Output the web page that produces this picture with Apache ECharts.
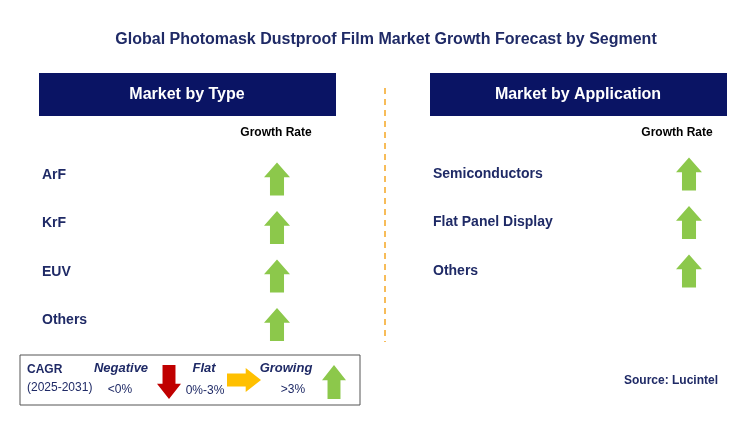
<!DOCTYPE html>
<html><head><meta charset="utf-8">
<script src="https://cdn.jsdelivr.net/npm/echarts@6/dist/echarts.min.js"></script>
<style>html,body{margin:0;padding:0;background:#fff}#c{width:750px;height:421px}</style>
</head><body><div id="c"></div>
<script>
const typeCategories = ['ArF','KrF','EUV','Others'];
const typeGrowth = ['up','up','up','up'];
const appCategories = ['Semiconductors','Flat Panel Display','Others'];
const appGrowth = ['up','up','up'];

const navy = '#0A1464', green = '#8CC84B', red = '#C00000', yellow = '#FFC000';
const F = '"Liberation Sans", Arial, sans-serif';
function arrow(dir, cx, cy, color, w, h) {
  w = w || 26; h = h || 33;
  const hw = w/2, sw = w*0.27, hh = h*0.45;
  let pts;
  if (dir === 'up') pts = [[0,-h/2],[hw,-h/2+hh],[sw,-h/2+hh],[sw,h/2],[-sw,h/2],[-sw,-h/2+hh],[-hw,-h/2+hh]];
  else if (dir === 'down') pts = [[0,h/2],[hw,h/2-hh],[sw,h/2-hh],[sw,-h/2],[-sw,-h/2],[-sw,h/2-hh],[-hw,h/2-hh]];
  else pts = [[h/2,0],[h/2-hh,-hw],[h/2-hh,-sw],[-h/2,-sw],[-h/2,sw],[h/2-hh,sw],[h/2-hh,hw]];
  return {type:'polygon', shape:{points:pts.map(p=>[p[0]+cx,p[1]+cy])}, style:{fill:color}};
}
const g = [];
g.push({type:'text', style:{text:'Global Photomask Dustproof Film Market Growth Forecast by Segment', x:386, y:40, align:'center', verticalAlign:'middle', font:'bold 16px '+F, fill:'#1F2A66'}});
[[39,'Market by Type'],[430,'Market by Application']].forEach(([x,t])=>{
  g.push({type:'rect', shape:{x:x,y:73,width:297,height:43}, style:{fill:navy}});
  g.push({type:'text', style:{text:t, x:x+148, y:95, align:'center', verticalAlign:'middle', font:'bold 16px '+F, fill:'#fff'}});
});
g.push({type:'text', style:{text:'Growth Rate', x:276, y:133, align:'center', verticalAlign:'middle', font:'bold 12px '+F, fill:'#000'}});
g.push({type:'text', style:{text:'Growth Rate', x:677, y:133, align:'center', verticalAlign:'middle', font:'bold 12px '+F, fill:'#000'}});
g.push({type:'line', shape:{x1:385,y1:88,x2:385,y2:342}, style:{stroke:'#F5A623', lineWidth:1.5, lineDash:[6,5]}});
typeCategories.forEach((c,i)=>{
  const y = 175 + i*48.5;
  g.push({type:'text', style:{text:c, x:42, y:y, verticalAlign:'middle', font:'bold 14px '+F, fill:'#1F2A66'}});
  g.push(arrow(typeGrowth[i], 277, y+4, green));
});
appCategories.forEach((c,i)=>{
  const y = 174 + i*48.5;
  g.push({type:'text', style:{text:c, x:433, y:y, verticalAlign:'middle', font:'bold 14px '+F, fill:'#1F2A66'}});
  g.push(arrow(appGrowth[i], 689, y, green));
});
g.push({type:'rect', shape:{x:20,y:355,width:340,height:50}, style:{fill:'#fff', stroke:'#555', lineWidth:1}});
g.push({type:'text', style:{text:'CAGR', x:27, y:370, verticalAlign:'middle', font:'bold 12px '+F, fill:'#1F2A66'}});
g.push({type:'text', style:{text:'(2025-2031)', x:27, y:388, verticalAlign:'middle', font:'12px '+F, fill:'#1F2A66'}});
g.push({type:'text', style:{text:'Negative', x:121, y:368, align:'center', verticalAlign:'middle', font:'italic bold 13px '+F, fill:'#1F2A66'}});
g.push({type:'text', style:{text:'<0%', x:120, y:390, align:'center', verticalAlign:'middle', font:'12px '+F, fill:'#1F2A66'}});
g.push(arrow('down', 169, 382, red, 24, 34));
g.push({type:'text', style:{text:'Flat', x:204, y:368, align:'center', verticalAlign:'middle', font:'italic bold 13px '+F, fill:'#1F2A66'}});
g.push({type:'text', style:{text:'0%-3%', x:205, y:391, align:'center', verticalAlign:'middle', font:'12px '+F, fill:'#1F2A66'}});
g.push(arrow('right', 244, 380, yellow, 24, 34));
g.push({type:'text', style:{text:'Growing', x:286, y:368, align:'center', verticalAlign:'middle', font:'italic bold 13px '+F, fill:'#1F2A66'}});
g.push({type:'text', style:{text:'>3%', x:293, y:390, align:'center', verticalAlign:'middle', font:'12px '+F, fill:'#1F2A66'}});
g.push(arrow('up', 334, 382, green, 24, 34));
g.push({type:'text', style:{text:'Source: Lucintel', x:718, y:381, align:'right', verticalAlign:'middle', font:'bold 12px '+F, fill:'#1F2A66'}});
const chart = echarts.init(document.getElementById('c'));
chart.setOption({graphic:{elements:g}});
</script></body></html>
